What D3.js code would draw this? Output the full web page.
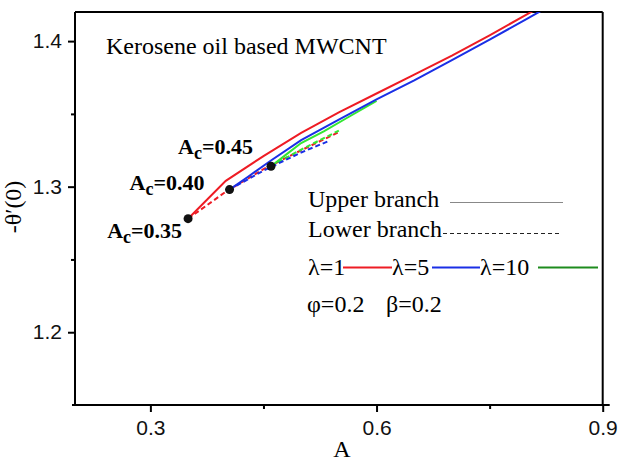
<!DOCTYPE html>
<html>
<head>
<meta charset="utf-8">
<script src="https://cdn.jsdelivr.net/npm/d3@7"></script>
<style>
  body { margin: 0; background: #fff; }
  svg { display: block; }
  .tick text { font-family: "Liberation Sans", Arial, sans-serif; }
</style>
</head>
<body>
<div id="chart"></div>
<script>
// ---- data ----
const xTicks = [0.3, 0.6, 0.9];
const xMinor = [0.45, 0.75];
const yTicks = [1.2, 1.3, 1.4];
const yMinor = [1.25, 1.35];

// upper branch (solid)
const upperL1  = [[0.35,1.278],[0.40,1.304],[0.45,1.321],[0.50,1.337],[0.55,1.351],[0.60,1.364],[0.65,1.377],[0.70,1.390],[0.75,1.404],[0.80,1.4185],[0.85,1.433]];
const upperL5  = [[0.405,1.298],[0.43,1.307],[0.46,1.318],[0.50,1.332],[0.55,1.346],[0.60,1.360],[0.65,1.373],[0.70,1.387],[0.75,1.401],[0.80,1.4155],[0.85,1.430]];
const upperL10 = [[0.46,1.314],[0.48,1.322],[0.50,1.330],[0.53,1.338],[0.56,1.347],[0.60,1.359]];
// lower branch (dashed)
const lowerL1  = [[0.35,1.278],[0.40,1.2965],[0.45,1.312],[0.50,1.325],[0.55,1.3375]];
const lowerL5  = [[0.405,1.298],[0.45,1.311],[0.50,1.3235],[0.535,1.331]];
const lowerL10 = [[0.46,1.314],[0.50,1.3255],[0.55,1.3385]];

// critical points
const critical = [[0.35,1.278],[0.405,1.298],[0.46,1.314]];
const critLabels = ["0.35", "0.40", "0.45"];

// ---- layout ----
const W = 618, H = 462;
const plotL = 75, plotR = 602.7, plotT = 12, plotB = 405;

const x = d3.scaleLinear().domain([0.2, 0.9]).range([plotL, plotR]);
const y = d3.scaleLinear().domain([1.15, 1.42]).range([plotB, plotT]);

const svg = d3.select('#chart').append('svg')
  .attr('width', W).attr('height', H);

svg.append('clipPath').attr('id', 'plot-clip')
  .append('rect')
  .attr('x', plotL).attr('y', plotT)
  .attr('width', plotR - plotL).attr('height', plotB - plotT);

// frame (top + right)
svg.append('line').attr('x1', plotL).attr('x2', plotR).attr('y1', plotT).attr('y2', plotT)
  .attr('stroke', '#000').attr('stroke-width', 2);
svg.append('line').attr('x1', plotR).attr('x2', plotR).attr('y1', plotT).attr('y2', plotB)
  .attr('stroke', '#000').attr('stroke-width', 2);

// x axis
const xAxis = svg.append('g').attr('transform', `translate(0,${plotB})`)
  .call(d3.axisBottom(x).tickValues(xTicks).tickFormat(d3.format('.1f')).tickSize(7).tickSizeOuter(0).tickPadding(8));
xAxis.select('.domain').remove();
xAxis.append('line').attr('x1', plotL - 3).attr('x2', plotR + 7).attr('stroke', '#000').attr('stroke-width', 2);
xAxis.selectAll('.tick line').attr('stroke-width', 2);
xAxis.selectAll('.tick text').attr('font-size', 21).attr('fill', '#111');
svg.append('g').attr('transform', `translate(0,${plotB})`)
  .call(d3.axisBottom(x).tickValues(xMinor).tickSize(4).tickFormat(''))
  .call(g => g.select('.domain').remove())
  .selectAll('.tick line').attr('stroke-width', 2);

// y axis
const yAxis = svg.append('g').attr('transform', `translate(${plotL},0)`)
  .call(d3.axisLeft(y).tickValues(yTicks).tickFormat(d3.format('.1f')).tickSize(7).tickSizeOuter(0).tickPadding(6));
yAxis.select('.domain').remove();
yAxis.append('line').attr('y1', plotT).attr('y2', plotB + 1).attr('stroke', '#000').attr('stroke-width', 2);
yAxis.selectAll('.tick line').attr('stroke-width', 2);
yAxis.selectAll('.tick text').attr('font-size', 21).attr('fill', '#111');
svg.append('g').attr('transform', `translate(${plotL},0)`)
  .call(d3.axisLeft(y).tickValues(yMinor).tickSize(4).tickFormat(''))
  .call(g => g.select('.domain').remove())
  .selectAll('.tick line').attr('stroke-width', 2);

// axis titles
const serif = '"Liberation Serif", "Times New Roman", serif';
svg.append('text')
  .attr('x', 342).attr('y', 457)
  .attr('text-anchor', 'middle')
  .attr('font-family', serif)
  .attr('font-size', 24)
  .text('A');
svg.append('text')
  .attr('transform', 'translate(21,207) rotate(-90)')
  .attr('text-anchor', 'middle')
  .attr('font-family', serif)
  .attr('font-size', 24)
  .text('-θ′(0)');

// ---- curves ----
const line = d3.line().x(d => x(d[0])).y(d => y(d[1]));
const plot = svg.append('g').attr('clip-path', 'url(#plot-clip)');

const red = '#ee1c24', blue = '#1a2fe6', green = '#33e633', legendGreen = '#1e8c1e';

const series = [
  { data: lowerL1,  color: red,   dash: '5,3' },
  { data: lowerL10, color: green, dash: '5,3' },
  { data: lowerL5,  color: blue,  dash: '5,3' },
  { data: upperL1,  color: red,   dash: null },
  { data: upperL10, color: green, dash: null },
  { data: upperL5,  color: blue,  dash: null }
];

plot.selectAll('path.curve')
  .data(series)
  .enter()
  .append('path')
  .attr('class', 'curve')
  .attr('d', d => line(d.data))
  .attr('fill', 'none')
  .attr('stroke', d => d.color)
  .attr('stroke-width', 2)
  .attr('stroke-dasharray', d => d.dash);

plot.selectAll('circle')
  .data(critical)
  .enter()
  .append('circle')
  .attr('cx', d => x(d[0]))
  .attr('cy', d => y(d[1]))
  .attr('r', 4.5)
  .attr('fill', '#111');

// A_c labels next to critical points
const labelOffsets = [[-6, 19], [-25, 0], [-18, -12]];
critical.forEach((d, i) => {
  const t = svg.append('text')
    .attr('x', x(d[0]) + labelOffsets[i][0])
    .attr('y', y(d[1]) + labelOffsets[i][1])
    .attr('text-anchor', 'end')
    .attr('font-family', serif)
    .attr('font-weight', 'bold')
    .attr('font-size', 22);
  t.append('tspan').text('A');
  t.append('tspan').attr('font-size', 18).attr('dy', 5).text('c');
  t.append('tspan').attr('dy', -5).text('=' + critLabels[i]);
});

// title
svg.append('text')
  .attr('x', 106).attr('y', 54)
  .attr('font-family', serif)
  .attr('font-size', 24)
  .text('Kerosene oil based MWCNT');

// ---- legend ----
const lg = svg.append('g').attr('font-family', serif).attr('font-size', 24);
lg.append('text').attr('x', 308).attr('y', 207).text('Upper branch');
lg.append('line').attr('x1', 450).attr('x2', 563).attr('y1', 202.5).attr('y2', 202.5)
  .attr('stroke', '#888').attr('stroke-width', 1.2);
lg.append('text').attr('x', 308).attr('y', 237).text('Lower branch');
lg.append('line').attr('x1', 443).attr('x2', 560).attr('y1', 233.5).attr('y2', 233.5)
  .attr('stroke', '#222').attr('stroke-width', 1.2).attr('stroke-dasharray', '4,3');

const lambdaItems = [
  { label: 'λ=1',  color: red,         x: 308, x1: 343, x2: 392 },
  { label: 'λ=5',  color: blue,        x: 392, x1: 432, x2: 480 },
  { label: 'λ=10', color: legendGreen, x: 480, x1: 538, x2: 598 }
];
lambdaItems.forEach(it => {
  lg.append('text').attr('x', it.x).attr('y', 275).text(it.label);
  lg.append('line').attr('x1', it.x1).attr('x2', it.x2).attr('y1', 267.5).attr('y2', 267.5)
    .attr('stroke', it.color).attr('stroke-width', 2);
});
lg.append('text').attr('x', 307).attr('y', 312).text('φ=0.2');
lg.append('text').attr('x', 386).attr('y', 312).text('β=0.2');
</script>
</body>
</html>
